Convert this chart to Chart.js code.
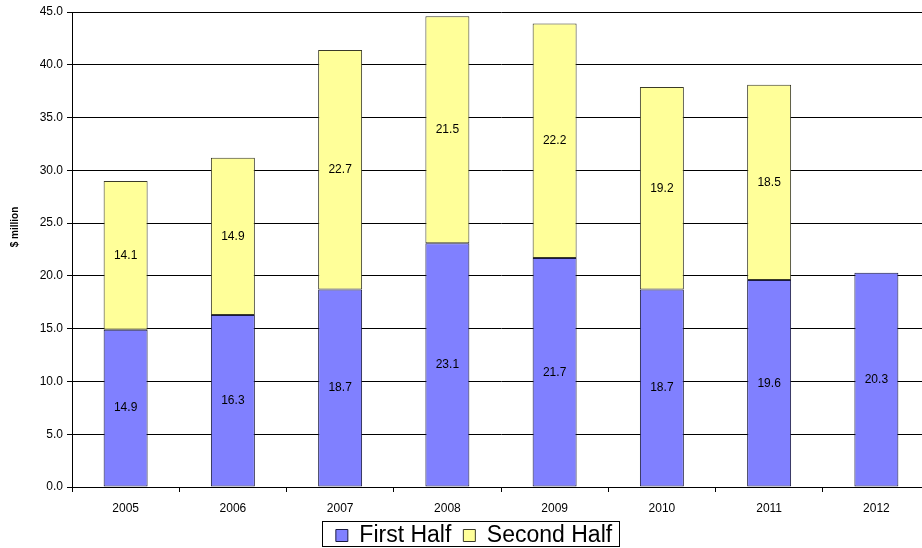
<!DOCTYPE html>
<html>
<head>
<meta charset="utf-8">
<script src="https://cdn.jsdelivr.net/npm/chart.js@4/dist/chart.umd.min.js"></script>
<style>
html,body{margin:0;padding:0;background:#fff;overflow:hidden;}
#wrap{width:930px;height:548px;position:relative;}
</style>
</head>
<body>
<div id="wrap"><canvas id="c"></canvas></div>
<script>
const years = ['2005','2006','2007','2008','2009','2010','2011','2012'];
const firstHalf = [14.9, 16.3, 18.7, 23.1, 21.7, 18.7, 19.6, 20.3];
const secondHalf = [14.1, 14.9, 22.7, 21.5, 22.2, 19.2, 18.5, null];
const seriesNames = ['First Half', 'Second Half'];
const yTitle = '$ million';

const FONT = '"Liberation Sans", Arial, sans-serif';
const PAD_BOTTOM = -9;
const AREA_BOTTOM = 487;

const barLabels = {
  id: 'barLabels',
  afterDatasetsDraw(chart) {
    const ctx = chart.ctx;
    ctx.save();
    ctx.font = '12px ' + FONT;
    ctx.fillStyle = '#000';
    ctx.textAlign = 'center';
    ctx.textBaseline = 'middle';
    chart.data.datasets.forEach((ds, i) => {
      const meta = chart.getDatasetMeta(i);
      meta.data.forEach((bar, j) => {
        const v = ds.data[j];
        if (v === null || v === undefined) return;
        const p = bar.getProps(['x', 'y', 'base'], true);
        ctx.fillText(v.toFixed(1), p.x, (p.y + p.base) / 2);
      });
    });
    ctx.restore();
  }
};

const yTitlePlugin = {
  id: 'yTitlePlugin',
  afterDraw(chart) {
    const ctx = chart.ctx;
    ctx.save();
    ctx.translate(15, 227);
    ctx.rotate(-Math.PI / 2);
    ctx.font = 'bold 10px ' + FONT;
    ctx.fillStyle = '#000';
    ctx.textAlign = 'center';
    ctx.textBaseline = 'middle';
    ctx.fillText(yTitle, 0, 0);
    ctx.restore();
  }
};

const legendBorder = {
  id: 'legendBorder',
  afterDraw(chart) {
    const lg = chart.legend;
    if (!lg || !lg.legendHitBoxes || !lg.legendHitBoxes.length) return;
    let l = Infinity, r = -Infinity, t = Infinity;
    lg.legendHitBoxes.forEach(h => {
      l = Math.min(l, h.left); r = Math.max(r, h.left + h.width);
      t = Math.min(t, h.top);
    });
    const ctx = chart.ctx;
    ctx.save();
    ctx.strokeStyle = '#000';
    ctx.lineWidth = 1;
    ctx.strokeRect(Math.round(l - 14) + 0.5, Math.round(t - 3) + 0.5, Math.round(r - l + 21), 25);
    ctx.restore();
  }
};

new Chart(document.getElementById('c'), {
  type: 'bar',
  data: {
    labels: years,
    datasets: [
      { label: seriesNames[0], data: firstHalf, backgroundColor: '#8080FF', borderColor: '#1a1a40', borderWidth: 1, borderSkipped: false },
      { label: seriesNames[1], data: secondHalf, backgroundColor: '#FFFF99', borderColor: '#3a3a28', borderWidth: 1, borderSkipped: false }
    ]
  },
  options: {
    responsive: true,
    maintainAspectRatio: false,
    animation: false,
    datasets: { bar: { categoryPercentage: 1.0, barPercentage: 0.41 } },
    layout: { padding: { top: 12, left: 18, right: 0, bottom: PAD_BOTTOM } },
    plugins: {
      legend: {
        position: 'bottom',
        labels: {
          font: { family: FONT, size: 23 },
          color: '#000',
          boxWidth: 12, boxHeight: 12,
          padding: 12,
          useBorderRadius: false
        }
      },
      tooltip: { enabled: false }
    },
    scales: {
      x: {
        stacked: true,
        offset: true,
        grid: { display: true, drawOnChartArea: false, drawTicks: true, tickLength: 5, color: '#000', offset: true },
        border: { display: true, color: '#000', width: 1 },
        ticks: { font: { family: FONT, size: 12 }, color: '#000', padding: 9 },
        afterFit(s) {
          const lh = s.chart.legend ? s.chart.legend.height : 45;
          s.height = s.chart.height - PAD_BOTTOM - lh - AREA_BOTTOM;
        }
      },
      y: {
        stacked: true,
        min: 0, max: 45,
        ticks: { stepSize: 5, font: { family: FONT, size: 12 }, color: '#000', padding: 4,
          callback: v => Number(v).toFixed(1) },
        grid: { color: '#000', lineWidth: 1, tickLength: 5, drawTicks: true },
        border: { display: true, color: '#000', width: 1 },
        title: { display: false, text: yTitle },
        afterFit(s) { s.width = 54; }
      }
    }
  },
  plugins: [barLabels, yTitlePlugin, legendBorder]
});
</script>
</body>
</html>
